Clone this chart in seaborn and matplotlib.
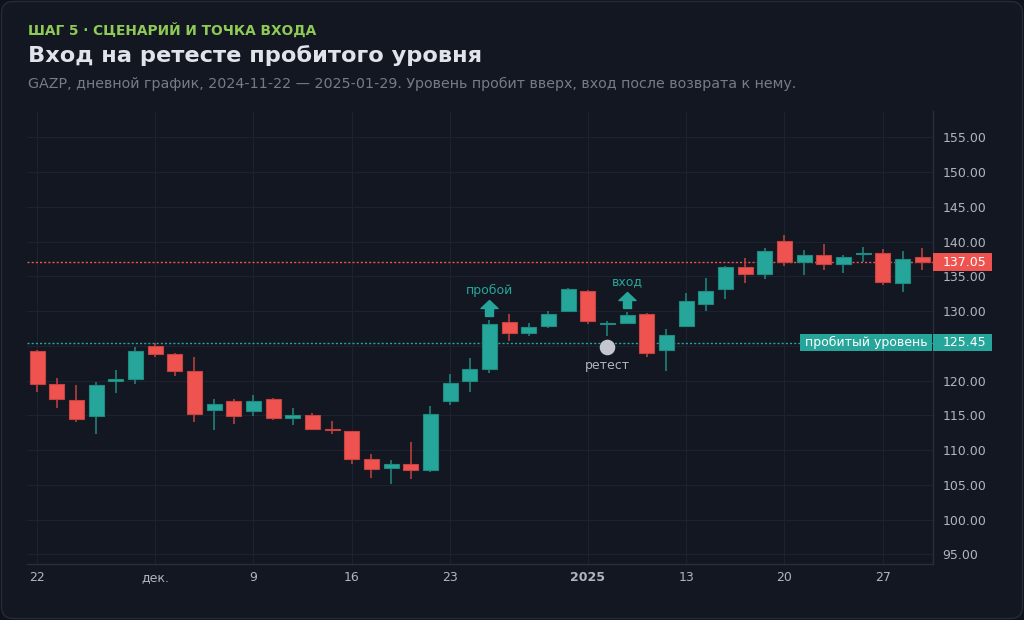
import pandas as pd
import matplotlib
matplotlib.use("Agg")
import matplotlib.pyplot as plt
import seaborn as sns
from matplotlib import transforms
from matplotlib.patches import Rectangle, FancyBboxPatch
from matplotlib.path import Path

# %% data
holidays = ["2025-01-01", "2025-01-02", "2025-01-07"]
dates = pd.bdate_range("2024-11-22", "2025-01-29").drop(pd.to_datetime(holidays))

opens = [124.3, 119.5, 117.25, 114.9, 119.9, 120.2, 125.0, 123.85, 121.4, 115.75,
         117.1, 115.65, 117.4, 114.55, 115.1, 113.05, 112.7, 108.7, 107.4, 107.95,
         107.1, 117.1, 119.9, 121.65, 128.4, 126.85, 127.8, 130.0, 132.9, 128.1,
         128.25, 129.6, 124.45, 127.85, 130.95, 133.1, 136.35, 135.35, 140.1, 137.05,
         138.1, 136.8, 138.2, 138.4, 134.0, 137.75]
highs = [124.4, 120.4, 119.4, 119.8, 121.5, 124.8, 125.4, 124.0, 123.45, 117.4,
         117.3, 117.9, 117.5, 116.0, 115.3, 114.2, 112.8, 109.45, 108.6, 111.15,
         116.4, 120.95, 123.2, 128.65, 129.6, 128.25, 130.0, 133.35, 133.0, 128.5,
         129.85, 129.7, 127.35, 132.65, 134.75, 136.5, 137.6, 139.1, 140.95, 138.8,
         139.6, 138.0, 139.25, 138.9, 138.7, 139.0]
lows = [118.3, 116.0, 114.0, 112.3, 118.2, 119.5, 123.4, 120.65, 114.05, 112.9,
        113.8, 114.9, 114.35, 113.65, 112.9, 112.35, 108.05, 106.0, 105.1, 105.9,
        106.8, 116.5, 118.4, 121.05, 125.65, 126.35, 127.6, 129.9, 128.1, 126.45,
        128.1, 123.45, 121.3, 127.65, 130.0, 131.8, 134.05, 134.6, 136.45, 135.15,
        135.9, 135.5, 137.0, 133.7, 132.7, 135.9]
closes = [119.5, 117.35, 114.4, 119.35, 120.2, 124.25, 123.85, 121.4, 115.25, 116.6,
          114.95, 117.05, 114.6, 115.1, 113.0, 112.9, 108.7, 107.25, 108.05, 107.1,
          115.2, 119.7, 121.65, 128.1, 126.85, 127.75, 129.55, 133.1, 128.55, 128.3,
          129.4, 124.0, 126.5, 131.4, 132.9, 136.35, 135.35, 138.7, 137.0, 138.0,
          136.75, 137.8, 138.35, 134.2, 137.5, 137.05]

level = 125.45
last_price = closes[-1]
breakout_date = "2024-12-25"
retest_date = "2025-01-06"
entry_date = "2025-01-08"

tick_dates = ["2024-11-22", "2024-12-02", "2024-12-09", "2024-12-16", "2024-12-23",
              "2025-01-03", "2025-01-13", "2025-01-20", "2025-01-27"]
tick_labels = ["22", "дек.", "9", "16", "23", "2025", "13", "20", "27"]
y_ticks = [95, 100, 105, 110, 115, 120, 125, 130, 135, 140, 145, 150, 155]

# %% style
bg = "#131722"
grid_c = "#1d2230"
up = "#26a69a"
down = "#ef5350"
up_edge = "#1f8a80"
down_edge = "#c7433f"
txt = "#b2b5be"

sns.set_theme(style="darkgrid", rc={
    "axes.facecolor": bg, "figure.facecolor": "#0f1219",
    "grid.color": grid_c, "grid.linewidth": 0.8,
    "axes.edgecolor": "#2a2e39", "text.color": txt,
})
plt.rcParams["font.family"] = ["DejaVu Sans"]

df = pd.DataFrame({"date": dates, "open": opens, "high": highs, "low": lows, "close": closes})
df["x"] = range(len(df))
df["up"] = df["close"] >= df["open"]

fig = plt.figure(figsize=(10.24, 6.2), dpi=100)
card = FancyBboxPatch((1.5, 1.5), 1021, 617, boxstyle="round,pad=0,rounding_size=12",
                      fc=bg, ec="#262b37", lw=1, transform=transforms.IdentityTransform(), zorder=-1)
fig.add_artist(card)

ax = fig.add_axes([27.4 / 1024, 1 - 564 / 620, 905.2 / 1024, 453 / 620])
ax.set_facecolor(bg)

# level lines
ax.axhline(last_price, color=down, lw=1, ls=(0, (1.5, 1.5)), zorder=1)
ax.axhline(level, color=up, lw=1, ls=(0, (1.5, 1.5)), zorder=1)

# candles
for is_up, g in df.groupby("up"):
    fc = up if is_up else down
    ec = up_edge if is_up else down_edge
    ax.vlines(g["x"], g["low"], g["high"], color=ec, lw=1.1, zorder=2)
    ax.bar(g["x"], (g["close"] - g["open"]).abs().clip(lower=0.12),
           bottom=g[["open", "close"]].min(axis=1), width=0.76,
           color=fc, edgecolor=ec, linewidth=0.8, zorder=3)

# markers
def pos(d):
    return int(df.index[df["date"] == pd.Timestamp(d)][0])

arrow = Path([(-0.25, -0.5), (0.25, -0.5), (0.25, 0.0), (0.53, 0.0), (0.0, 0.5),
              (-0.53, 0.0), (-0.25, 0.0), (-0.25, -0.5)])
for d, label in [(breakout_date, "пробой"), (entry_date, "вход")]:
    i = pos(d)
    tr = transforms.offset_copy(ax.transData, fig=fig, y=12, units="dots")
    ax.plot([i], [highs[i]], marker=arrow, ms=12.2, color=up, ls="none",
            transform=tr, zorder=5, clip_on=False)
    ax.annotate(label, xy=(i, highs[i]), xytext=(0, 21.6), textcoords="offset points",
                ha="center", va="center", fontsize=9, color=up, zorder=5)

i = pos(retest_date)
tr = transforms.offset_copy(ax.transData, fig=fig, y=-11.6, units="dots")
ax.plot([i], [lows[i]], marker="o", ms=10.2, color="#c3c6ce", ls="none",
        transform=tr, zorder=5)
ax.annotate("ретест", xy=(i, lows[i]), xytext=(0, -21.6), textcoords="offset points",
            ha="center", va="center", fontsize=9, color=txt, zorder=5)

# axes
ax.set_xlim(-0.49, 45.53)
ax.set_ylim(93.6, 158.78)
ax.set_yticks(y_ticks)
# 125.00 sits under the level badge, so it is left blank
ax.set_yticklabels(["" if v == 125 else f"{v:.2f}" for v in y_ticks])
ax.set_xticks([pos(d) for d in tick_dates])
ax.set_xticklabels(tick_labels)
for lab in ax.get_xticklabels():
    if lab.get_text() == "2025":
        lab.set_fontweight("bold")
        lab.set_color("#d1d4dc")
ax.yaxis.tick_right()
ax.tick_params(axis="both", length=0, labelsize=9, labelcolor=txt)
ax.tick_params(axis="y", pad=7)
ax.tick_params(axis="x", pad=5)
for s in ["top", "left"]:
    ax.spines[s].set_visible(False)
for s in ["right", "bottom"]:
    ax.spines[s].set_color("#2a2e39")
    ax.spines[s].set_linewidth(1)
ax.set_xlabel("")
ax.set_ylabel("")

# price labels
ytr = ax.get_yaxis_transform()
for val, c in [(last_price, down), (level, up)]:
    ax.add_patch(Rectangle((1.0, val - 1.22), 0.0652, 2.45, transform=ytr,
                           fc=c, ec="none", clip_on=False, zorder=6))
    ax.text(1.011, val, f"{val:.2f}", transform=ytr, ha="left", va="center",
            fontsize=9, color="#ffffff", zorder=7, clip_on=False)
ax.add_patch(Rectangle((0.8535, level - 1.22), 0.1455, 2.45, transform=ytr,
                       fc=up, ec="none", zorder=6))
ax.text(0.9263, level, "пробитый уровень", transform=ytr, ha="center", va="center",
        fontsize=9, color="#ffffff", zorder=7)

# header
fig.text(28 / 1024, 1 - 30 / 620, "ШАГ 5 · СЦЕНАРИЙ И ТОЧКА ВХОДА", fontsize=9.9,
         fontweight="bold", color="#8fca55", va="center")
fig.text(28 / 1024, 1 - 56 / 620, "Вход на ретесте пробитого уровня", fontsize=16.2,
         fontweight="bold", color="#e1e3ea", va="center")
fig.text(28 / 1024, 1 - 84 / 620,
         "GAZP, дневной график, 2024-11-22 — 2025-01-29. Уровень пробит вверх, вход после возврата к нему.",
         fontsize=10.3, color="#787b86", va="center")

fig.savefig("out.png", dpi=100, facecolor=fig.get_facecolor())
